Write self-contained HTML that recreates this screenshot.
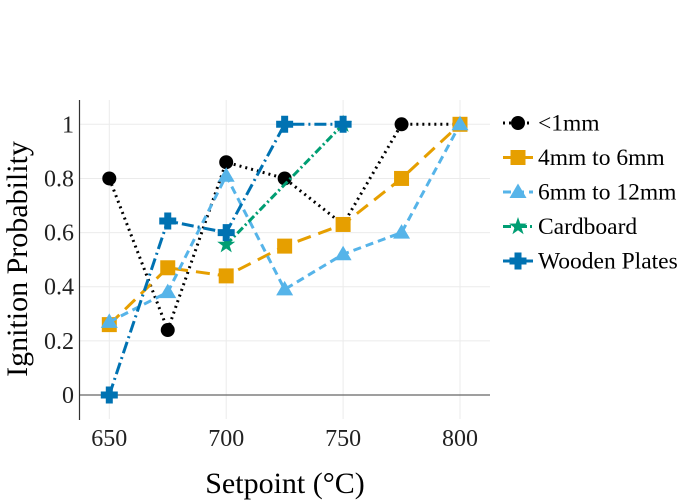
<!DOCTYPE html>
<html><head><meta charset="utf-8"><style>
html,body{margin:0;padding:0;background:#fff;}
svg{display:block;font-family:"Liberation Serif",serif;}
</style></head><body>
<svg id="chart" width="700" height="500">
<g id="grid"></g>
<g id="axes"></g>
<g id="series"></g>
<g id="legend"></g>
<text x="285" y="493" text-anchor="middle" font-size="30" fill="#000">Setpoint (°C)</text>
<text transform="translate(27,259) rotate(-90)" text-anchor="middle" font-size="30" fill="#000">Ignition Probability</text>
</svg>
<script>
const xTicks=[650,700,750,800];
const yTicks=[0,0.2,0.4,0.6,0.8,1];
const yTickLabels=["0","0.2","0.4","0.6","0.8","1"];
const seriesNames=["<1mm","4mm to 6mm","6mm to 12mm","Cardboard","Wooden Plates"];
const xs1=[650,675,700,725,750,775,800];
const ys1=[0.80,0.24,0.86,0.80,0.63,1.0,1.0];
const xs2=[650,675,700,725,750,775,800];
const ys2=[0.26,0.47,0.44,0.55,0.63,0.80,1.0];
const xs3=[650,675,700,725,750,775,800];
const ys3=[0.27,0.38,0.81,0.39,0.52,0.60,1.0];
const xs4=[700,750];
const ys4=[0.555,1.0];
const xs5=[650,675,700,725,750];
const ys5=[0,0.643,0.60,1.0,1.0];

const NS="http://www.w3.org/2000/svg";
const X=v=>109.3+(v-650)*(460-109.3)/150;
const Y=v=>395-v*(395-124.3);
function mk(tag,attrs,parent){const e=document.createElementNS(NS,tag);for(const k in attrs)e.setAttribute(k,attrs[k]);parent.appendChild(e);return e;}
const grid=document.getElementById('grid'),axes=document.getElementById('axes'),ser=document.getElementById('series'),leg=document.getElementById('legend');
xTicks.forEach(t=>{
  const l=mk('line',{x1:X(t),x2:X(t),y1:100,y2:419,stroke:'#ebebeb','stroke-width':1},grid);
  
  
  const tx=mk('text',{x:X(t),y:446,'text-anchor':'middle','font-size':24,fill:'#222'},axes);
  tx.textContent=t;
  
  
});
yTicks.forEach((t,i)=>{
  if(t!==0){const l=mk('line',{x1:80,x2:490,y1:Y(t),y2:Y(t),stroke:'#ebebeb','stroke-width':1},grid);
  
  }
  const tx=mk('text',{x:74,y:Y(t)+8,'text-anchor':'end','font-size':24,fill:'#222'},axes);
  tx.textContent=yTickLabels[i];
  
  
});
const zl=mk('line',{x1:80,x2:490,y1:Y(0),y2:Y(0),stroke:'#666','stroke-width':1.2},axes);


const ya=mk('line',{x1:79.5,x2:79.5,y1:100,y2:420,stroke:'#333','stroke-width':1.2},axes);



const styles=[
 {c:'#000000',d:'2,4',m:'circle'},
 {c:'#E69F00',d:'14,8',m:'square'},
 {c:'#56B4E9',d:'8,5',m:'triangle'},
 {c:'#009E73',d:'8,3,2,3',m:'star'},
 {c:'#0072B2',d:'12,4,2,4',m:'cross'}];
function marker(m,x,y,c,parent){
  let e;
  if(m==='circle')e=mk('circle',{cx:x,cy:y,r:7,fill:c},parent);
  else if(m==='square')e=mk('rect',{x:x-7.5,y:y-7.5,width:15,height:15,fill:c},parent);
  else if(m==='triangle')e=mk('polygon',{points:`${x},${y-8.5} ${x+8.5},${y+6} ${x-8.5},${y+6}`,fill:c},parent);
  else if(m==='star'){let p=[];for(let i=0;i<10;i++){const r=i%2?3.7:9.5,a=-Math.PI/2+i*Math.PI/5;p.push((x+r*Math.cos(a)).toFixed(1)+','+(y+r*Math.sin(a)).toFixed(1));}e=mk('polygon',{points:p.join(' '),fill:c},parent);}
  else e=mk('path',{d:`M${x-3.5},${y-8.5}h7v5h5v7h-5v5h-7v-5h-5v-7h5z`,fill:c},parent);
  return e;
}
const data=[[xs1,ys1],[xs2,ys2],[xs3,ys3],[xs4,ys4],[xs5,ys5]];
data.forEach((d,i)=>{
  const s=styles[i];
  const g=mk('g',{},ser);
  
  
  const pts=d[0].map((x,j)=>X(x)+','+Y(d[1][j])).join(' ');
  const pl=mk('polyline',{points:pts,fill:'none',stroke:s.c,'stroke-width':3,'stroke-dasharray':s.d},g);
  
  
  d[0].forEach((x,j)=>{const e=marker(s.m,X(x),Y(d[1][j]),s.c,g);
    
    });
  const ly=123+i*34.5;
  const lg=mk('g',{},leg);
  
  
  mk('line',{x1:503,x2:533,y1:ly,y2:ly,stroke:s.c,'stroke-width':3,'stroke-dasharray':s.d},lg);
  marker(s.m,518,ly,s.c,lg);
  const t=mk('text',{x:538,y:ly+7.5,'font-size':23.5,fill:'#000'},lg);
  t.textContent=seriesNames[i];
});
</script>
</body></html>
